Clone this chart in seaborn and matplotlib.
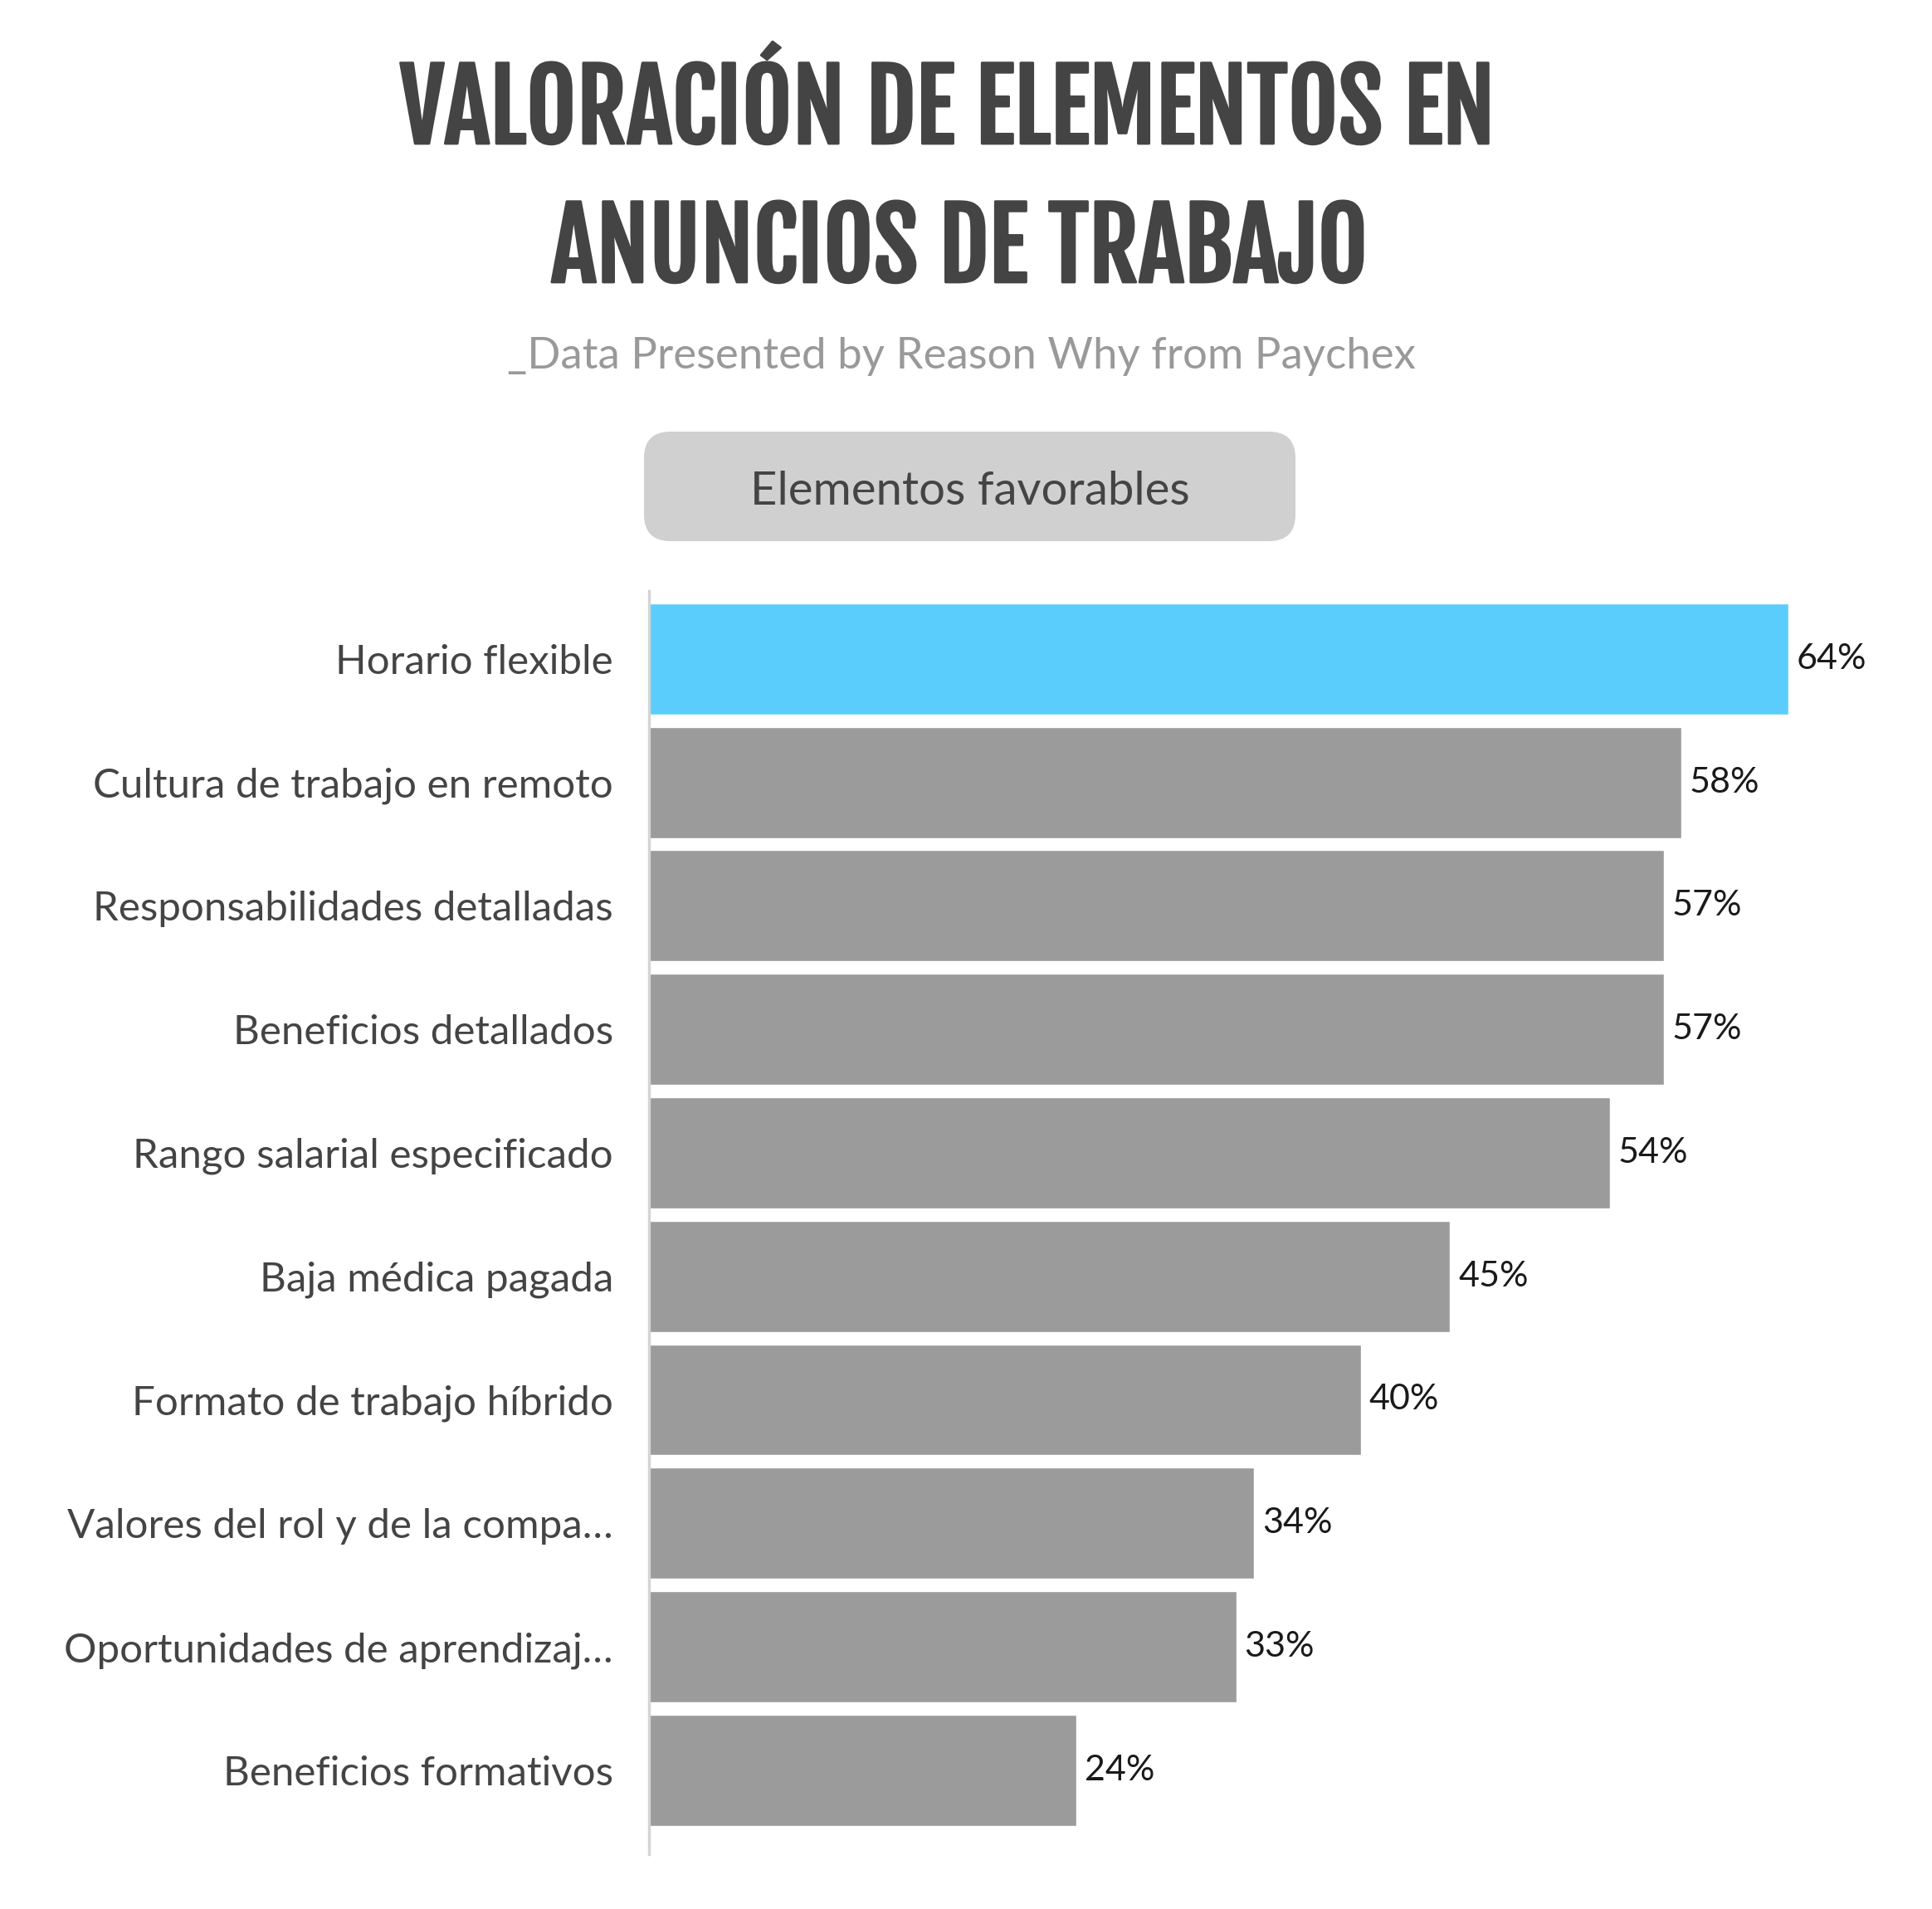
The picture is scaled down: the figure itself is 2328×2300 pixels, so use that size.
import matplotlib
matplotlib.use("Agg")
import matplotlib.pyplot as plt
import matplotlib.patheffects as pe
from matplotlib.patches import FancyBboxPatch
import seaborn as sns

# datos del grafico
categorias = ["Horario flexible",
              "Cultura de trabajo en remoto",
              "Responsabilidades detalladas",
              "Beneficios detallados",
              "Rango salarial especificado",
              "Baja médica pagada",
              "Formato de trabajo híbrido",
              "Valores del rol y de la compa…",
              "Oportunidades de aprendizaj…",
              "Beneficios formativos"]
valores = [64, 58, 57, 57, 54, 45, 40, 34, 33, 24]
etiquetas = ["64%", "58%", "57%", "57%", "54%", "45%", "40%", "34%", "33%", "24%"]
colores = ["#5bcdfd"] + ["#9b9b9b"] * 9

titulo1 = "VALORACIÓN DE ELEMENTOS EN"
titulo2 = "ANUNCIOS DE TRABAJO"
subtitulo = "_Data Presented by Reason Why from Paychex"
pastilla = "Elementos favorables"

sns.set_theme(style="white")
plt.rcParams["font.family"] = ["Lato", "DejaVu Sans"]
fuente_titulo = ["Fjalla One", "Oswald", "DejaVu Sans"]
# trazo para engrosar el titulo
grueso = [pe.withStroke(linewidth=2, foreground="#444444")]

fig = plt.figure(figsize=(23.28, 23.0), dpi=100)
fig.patch.set_facecolor("white")

# ejes de las barras
ax = fig.add_axes([782 / 2328, 66 / 2300, 1501.5 / 2328, 1522 / 2300])
sns.barplot(x=valores, y=categorias, hue=categorias, palette=colores,
            orient="h", width=0.9, legend=False, saturation=1, ax=ax)
ax.set_xlim(0, 70)
ax.set_ylim(9.68, -0.55)
ax.set_xlabel("")
ax.set_ylabel("")
ax.set_xticks([])

# etiquetas de valor
for cont, lab in zip(ax.containers, etiquetas):
    ax.bar_label(cont, labels=[lab], padding=7, fontsize=31, color="#1a1a1a")

ax.tick_params(axis="y", length=0, pad=31, labelsize=35.5, labelcolor="#444444")

for s in ["top", "right", "bottom"]:
    ax.spines[s].set_visible(False)
ax.spines["left"].set_color("#d4d4d4")
ax.spines["left"].set_linewidth(2.4)

# titulo
fig.text(1141 / 2328, 1 - 173 / 2300, titulo1, ha="center", va="baseline",
         fontsize=84, color="#444444", family=fuente_titulo, path_effects=grueso)
fig.text(1156 / 2328, 1 - 340 / 2300, titulo2, ha="center", va="baseline",
         fontsize=84, color="#444444", family=fuente_titulo, path_effects=grueso)
fig.text(1158 / 2328, 1 - 444 / 2300, subtitulo, ha="center", va="baseline",
         fontsize=38, color="#999999")

# caja redondeada
caja = FancyBboxPatch((7.76 + 0.32, 16.48 + 0.32), 7.85 - 0.64, 1.32 - 0.64,
                      boxstyle="round,pad=0.32", facecolor="#d0d0d0",
                      edgecolor="none", transform=fig.dpi_scale_trans)
fig.patches.append(caja)
fig.text(1169 / 2328, 1 - 608 / 2300, pastilla, ha="center", va="baseline",
         fontsize=40.5, color="#444444")

fig.savefig("out.png", dpi=100, facecolor="white")
